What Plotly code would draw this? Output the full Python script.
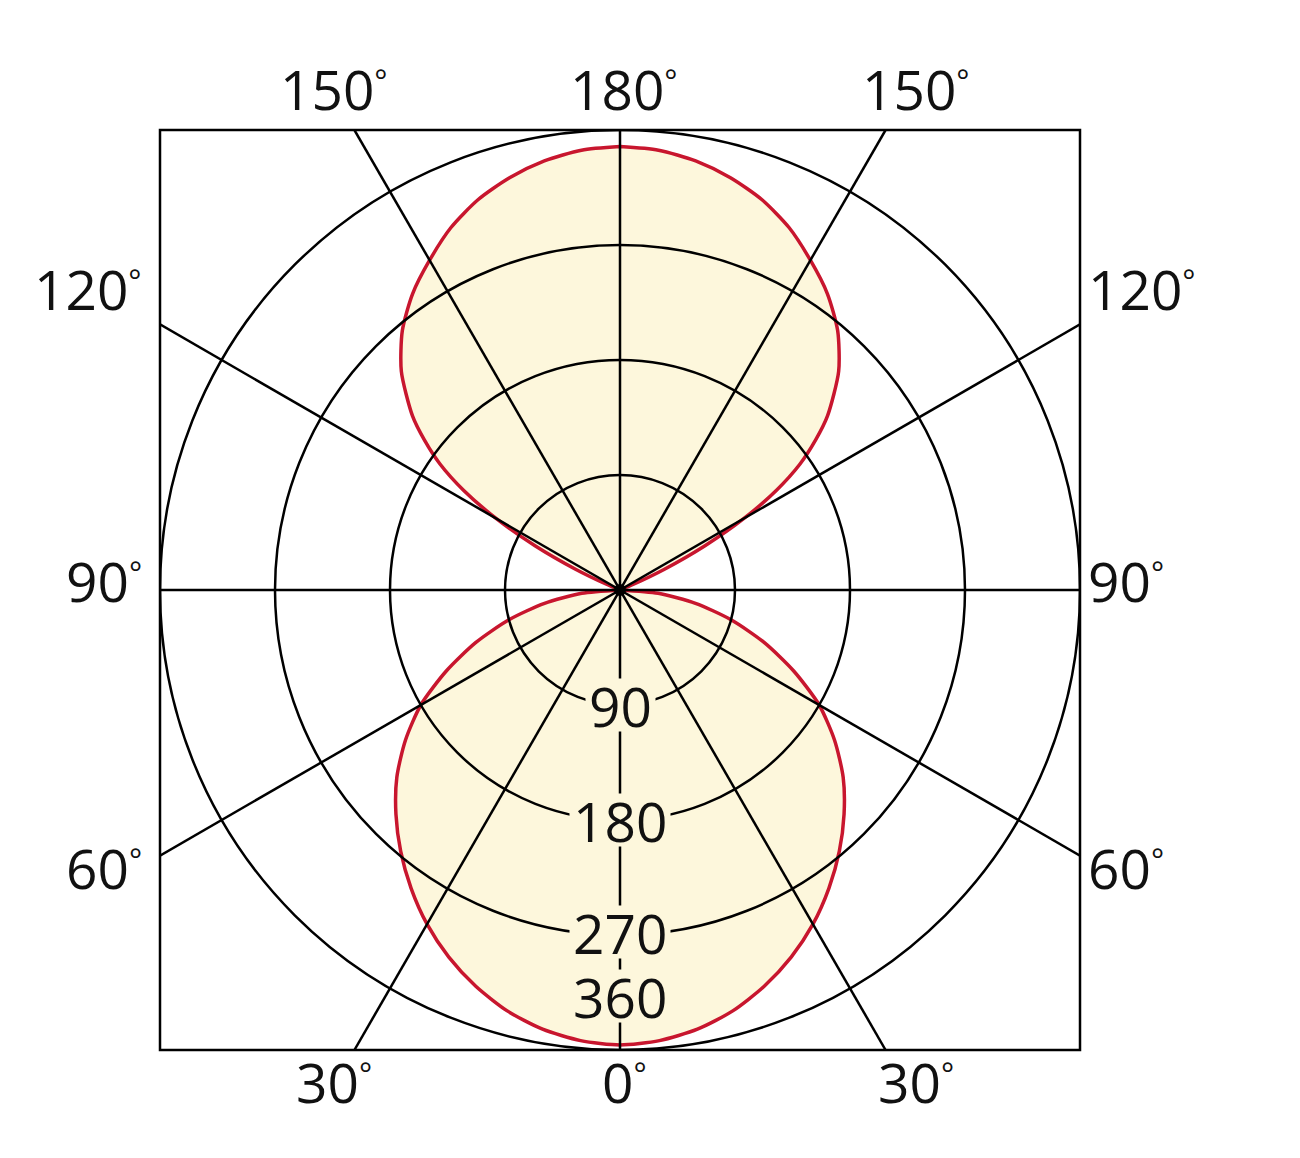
import numpy as np
import plotly.graph_objects as go

# luminous intensity (cd/klm), angle measured from the downward axis
bottom_angles = [0, 5, 10, 15, 20, 25, 30, 35, 40, 45, 50, 55, 60, 65, 70, 75, 80, 85, 90]
bottom_values = [356, 354, 349, 341, 330, 317, 302, 285, 267, 248, 228, 205, 180, 150, 120, 90, 60, 30, 0]
top_angles = [95, 100, 105, 110, 112, 113, 115, 117.5, 120, 122.5, 125, 127.5, 130, 135, 140, 145, 150, 155, 160, 165, 170, 175, 180]
top_values = [0, 0, 0, 0, 0, 12, 38, 75, 112, 145, 172, 193, 212, 242, 265, 283, 298, 313, 325, 334, 341, 345.5, 347]

rings = [90, 180, 270, 360]
ring_labels = ["90", "180", "270", "360"]
ring_label_pos = [90, 180, 268, 318]
spoke_angles = [0, 30, 60, 90, 120, 150]
tick_angles = [0, 30, 60, 90, 120, 150, 180]

R_MAX = 360
FILL = "#FDF7DC"
RED = "#C8162E"
FONT = "Open Sans"

half_theta = bottom_angles + top_angles
half_r = bottom_values + top_values
theta = half_theta + [360 - a for a in half_theta[::-1]]
r = half_r + half_r[::-1]

fig = go.Figure()

fig.add_trace(
    go.Scatterpolar(
        theta=theta,
        r=r,
        mode="lines",
        fill="toself",
        fillcolor=FILL,
        line={"color": RED, "width": 3.5, "shape": "spline", "smoothing": 0.7},
        hoverinfo="skip",
    )
)

shapes = []
# rings
for ring in rings:
    shapes.append(
        dict(type="circle", xref="x", yref="y", x0=-ring, x1=ring, y0=-ring, y1=ring,
             line={"color": "black", "width": 2.5}, layer="above")
    )


def edge_point(angle, side=1):
    rad = np.deg2rad(angle)
    sx, sy = np.sin(rad), -np.cos(rad)
    t = R_MAX / max(abs(sx), abs(sy))
    return round(side * t * sx, 6), round(t * sy, 6)


# spokes through the centre, out to the frame
for a in spoke_angles:
    x1, y1 = edge_point(a)
    shapes.append(
        dict(type="line", xref="x", yref="y", x0=-x1, y0=-y1, x1=x1, y1=y1,
             line={"color": "black", "width": 2.5}, layer="above")
    )

# frame
shapes.append(
    dict(type="rect", xref="paper", yref="paper", x0=0, x1=1, y0=0, y1=1,
         line={"color": "black", "width": 2.5}, layer="above")
)
# centre dot
shapes.append(
    dict(type="circle", xref="x", yref="y", xsizemode="pixel", ysizemode="pixel",
         xanchor=0, yanchor=0, x0=-6, x1=6, y0=-6, y1=6,
         fillcolor="black", line={"width": 0}, layer="above")
)

annotations = []
deg = "<span style='font-size:44px'><sup>°</sup></span>"
for a in tick_angles:
    sides = [1] if a in (0, 180) else [-1, 1]
    for s in sides:
        x, y = edge_point(a, s)
        ann = dict(xref="x", yref="y", x=x, y=y, text=f"{a}{deg}", showarrow=False,
                   font={"family": FONT, "size": 55, "color": "#111"})
        if abs(abs(y) - R_MAX) < 1e-6 and abs(x) < R_MAX - 1e-6:
            ann.update(yanchor="bottom" if y > 0 else "top",
                       yshift=2 if y > 0 else 8,
                       xshift=(-20 if s < 0 else 30) if a not in (0, 180) else 4)
        else:
            ann.update(xanchor="left" if x > 0 else "right",
                       xshift=6 if x > 0 else -16,
                       yshift=36 if y > 0 else (-12 if y < 0 else 10))
        annotations.append(ann)

for label, pos in zip(ring_labels, ring_label_pos):
    annotations.append(
        dict(xref="x", yref="y", x=0, y=-pos, text=label, showarrow=False,
             font={"family": FONT, "size": 55, "color": "#111"},
             bgcolor=FILL, borderpad=3, height=46)
    )

fig.update_layout(
    width=1300,
    height=1158,
    margin={"l": 152, "r": 228, "t": 122, "b": 116},
    paper_bgcolor="white",
    plot_bgcolor="rgba(0,0,0,0)",
    showlegend=False,
    polar={
        "domain": {"x": [0, 1], "y": [0, 1]},
        "bgcolor": "white",
        "radialaxis": {"range": [0, R_MAX], "visible": False, "showgrid": False},
        "angularaxis": {"rotation": 270, "direction": "clockwise", "showgrid": False,
                        "showticklabels": False, "ticks": "", "showline": False},
    },
    xaxis={"range": [-R_MAX, R_MAX], "visible": False, "fixedrange": True},
    yaxis={"range": [-R_MAX, R_MAX], "visible": False, "fixedrange": True},
    shapes=shapes,
    annotations=annotations,
)

fig.write_html("out.html")
